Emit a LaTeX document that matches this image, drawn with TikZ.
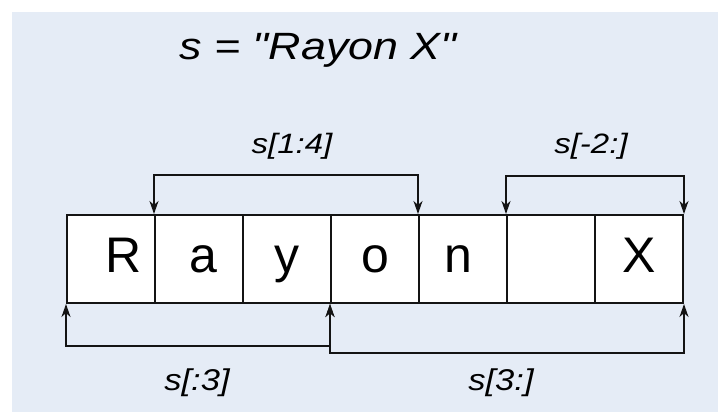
\documentclass[tikz,border=0pt]{standalone}
\usepackage{fontspec}
\setmainfont{Liberation Sans}[Ligatures=TeXOff]
\usetikzlibrary{arrows.meta}
\definecolor{panel}{RGB}{229,236,246}
\definecolor{ink}{RGB}{20,20,20}
\begin{document}
\begin{tikzpicture}[x=1pt,y=-1pt,
  >={Stealth[length=13pt,width=9pt,inset=4pt]},
  cell/.style={draw=ink,line width=2pt,fill=white,minimum width=88pt,minimum height=88pt,
    inner sep=0pt,text height=35pt,text depth=9pt,font=\fontsize{50}{50}\selectfont},
  slice/.style={draw=ink,line width=1.7pt,<->},
  lbl/.style={inner sep=0pt,anchor=base,font=\fontsize{28}{28}\selectfont\itshape},
  blbl/.style={lbl,font=\fontsize{30}{30}\selectfont\itshape}]
\useasboundingbox (0,0) rectangle (718,412);
\fill[panel] (12,12) rectangle (718,412);

% title
\node[lbl,font=\fontsize{38}{38}\selectfont\itshape] (title) at (318,60)
  {\scalebox{1.18}[1]{s = "Rayon X"}};

% the string, one cell per character
\node[cell] (c0) at (111,259) {\hspace*{26pt}R};
\node[cell] (c1) at (199,259) {\hspace*{8pt}a};
\node[cell] (c2) at (287,259) {y};
\node[cell] (c3) at (375,259) {o};
\node[cell] (c4) at (463,259) {n\hspace*{10pt}};
\node[cell] (c5) at (551,259) {};
\node[cell] (c6) at (639,259) {X};

% slices above
\draw[slice] (c1.north west) -- ++(0,-39) -| (c4.north west);
\draw[slice] (c5.north west) -- ++(0,-38) -| (c6.north east);
\node[lbl] (l14) at (292,153) {\scalebox{1.18}[1]{s[1:4]}};
\node[lbl] (lm2) at (591,153) {\scalebox{1.18}[1]{s[-2:]}};

% slices below
\draw[slice] (c0.south west) -- ++(0,42) -| (c3.south west);
\draw[slice] (c3.south west) -- ++(0,49) -| (c6.south east);
\node[blbl] (l3a) at (197,390) {\scalebox{1.15}[1]{s[:3]}};
\node[blbl] (l3b) at (501,390) {\scalebox{1.15}[1]{s[3:]}};
\end{tikzpicture}
\end{document}
